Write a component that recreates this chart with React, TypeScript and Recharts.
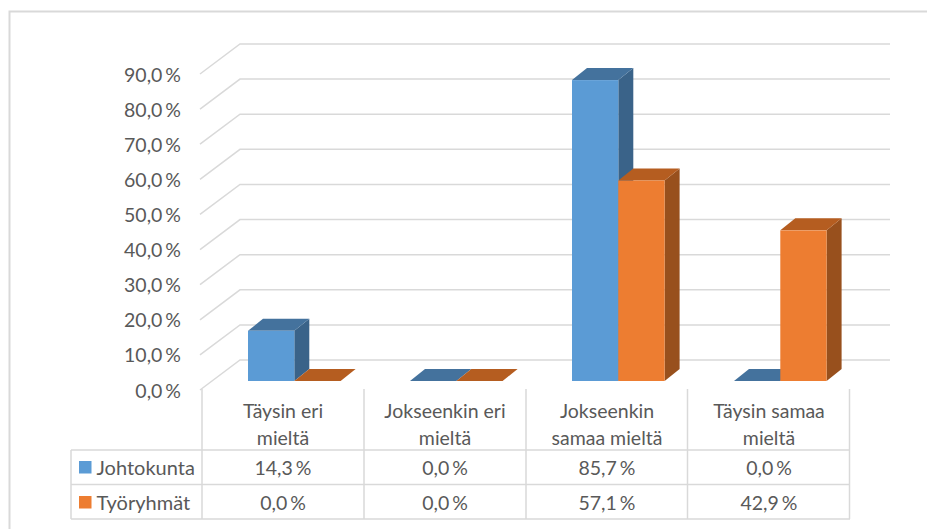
import { BarChart, Bar, XAxis, YAxis, CartesianGrid } from "recharts";

const categories = [
  ["Täysin eri", "mieltä"],
  ["Jokseenkin eri", "mieltä"],
  ["Jokseenkin", "samaa mieltä"],
  ["Täysin samaa", "mieltä"],
];
const johtokunta = [14.3, 0, 85.7, 0];
const tyoryhmat = [0, 0, 57.1, 42.9];
const yTicks = [0, 10, 20, 30, 40, 50, 60, 70, 80, 90];

const chartData = categories.map((lines, i) => ({
  name: lines.join(" "),
  johtokunta: johtokunta[i],
  tyoryhmat: tyoryhmat[i],
}));

const FONT = "Lato, sans-serif";
const FONT_SIZE = 19.5;
const TEXT = "#595959";
const LINE = "#d9d9d9";
const BLUE = { front: "#5b9bd5", top: "#44729d", side: "#3a6389" };
const ORANGE = { front: "#ed7d31", top: "#b55d20", side: "#98501d" };

const pct = (v: number) => v.toFixed(1).replace(".", ",") + " %";

// fake 3D: every bar is front + top + side
function bar3d(colors: typeof BLUE) {
  return (props: any) => {
    const { x, y, width, height } = props;
    const dx = 15;
    const dy = 12;
    const top = `${x},${y} ${x + dx},${y - dy} ${x + width + dx},${y - dy} ${x + width},${y}`;
    const side = `${x + width},${y} ${x + width + dx},${y - dy} ${x + width + dx},${y + height - dy} ${x + width},${y + height}`;
    return (
      <g>
        <polygon points={side} fill={colors.side} />
        <polygon points={top} fill={colors.top} />
        <rect x={x} y={y} width={width} height={height} fill={colors.front} />
      </g>
    );
  };
}

// gridline runs from the front of the floor back to the wall
function gridLine(props: any) {
  const { y1, index } = props;
  return (
    <polyline
      key={index}
      points={`200,${y1 + 9} 240,${y1 - 21} 890,${y1 - 21}`}
      fill="none"
      stroke={LINE}
      strokeWidth={1.5}
    />
  );
}

function YTick({ y, payload }: any) {
  return (
    <text x={181} y={y + 9} textAnchor="end" dominantBaseline="central" fontFamily={FONT} fontSize={FONT_SIZE} wordSpacing={-2} fill={TEXT}>
      {pct(payload.value)}
    </text>
  );
}

function TableColumn({ x, index }: any) {
  const cx = x - 11;
  const t = { textAnchor: "middle" as const, dominantBaseline: "central" as const, fontFamily: FONT, fontSize: FONT_SIZE, fill: TEXT };
  return (
    <g>
      <text x={cx} y={410} {...t}>{categories[index][0]}</text>
      <text x={cx} y={437} {...t}>{categories[index][1]}</text>
      <text x={cx} y={467} wordSpacing={-2} {...t}>{pct(johtokunta[index])}</text>
      <text x={cx} y={502} wordSpacing={-2} {...t}>{pct(tyoryhmat[index])}</text>
    </g>
  );
}

function TableFrame() {
  const t = { dominantBaseline: "central" as const, fontFamily: FONT, fontSize: 20, fill: TEXT };
  return (
    <g>
      <path d="M9.5 529V11.5H927" fill="none" stroke={LINE} strokeWidth={2} />
      <g stroke={LINE} strokeWidth={1.5}>
        <line x1={202} y1={389} x2={202} y2={519} />
        <line x1={364} y1={389} x2={364} y2={519} />
        <line x1={526} y1={389} x2={526} y2={519} />
        <line x1={687.5} y1={389} x2={687.5} y2={519} />
        <line x1={849.5} y1={389} x2={849.5} y2={519} />
        <line x1={71} y1={450} x2={71} y2={519} />
        <line x1={71} y1={450} x2={850} y2={450} />
        <line x1={71} y1={484.5} x2={850} y2={484.5} />
        <line x1={71} y1={519} x2={850} y2={519} />
      </g>
      <rect x={79} y={461} width={12.5} height={12.5} fill={BLUE.front} />
      <text x={96.5} y={467} {...t}>Johtokunta</text>
      <rect x={79} y={496} width={12.5} height={12.5} fill={ORANGE.front} />
      <text x={96.5} y={502} {...t}>Työryhmät</text>
    </g>
  );
}

export default function App() {
  return (
    <div style={{ position: "absolute", left: 0, top: 0, width: 927, height: 529, background: "#fff" }}>
      <BarChart
        width={927}
        height={529}
        data={chartData}
        margin={{ top: 65, right: 66, bottom: 147, left: 212 }}
        barSize={46.3}
        barGap={0}
      >
        <CartesianGrid vertical={false} horizontal={gridLine} />
        <XAxis dataKey="name" height={1} axisLine={false} tickLine={false} interval={0} tick={<TableColumn />} />
        <YAxis
          width={1}
          domain={[0, 90]}
          ticks={yTicks}
          interval={0}
          axisLine={false}
          tickLine={false}
          tick={<YTick />}
        />
        <Bar dataKey="johtokunta" shape={bar3d(BLUE)} isAnimationActive={false} />
        <Bar dataKey="tyoryhmat" shape={bar3d(ORANGE)} isAnimationActive={false} />
        <TableFrame />
      </BarChart>
    </div>
  );
}
